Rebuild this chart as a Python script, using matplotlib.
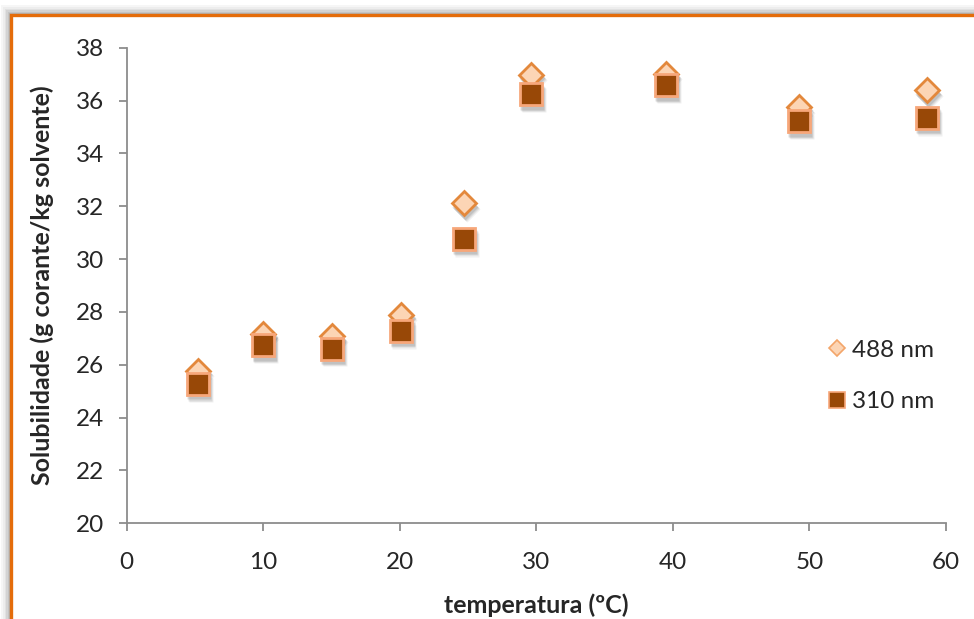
import matplotlib
matplotlib.use("Agg")
import matplotlib.pyplot as plt
from matplotlib.patches import Rectangle
from matplotlib.transforms import offset_copy
from matplotlib.lines import Line2D

# Solubility of the dye versus temperature, read at two wavelengths
temperatura = [5.2, 10.0, 15.0, 20.1, 24.7, 29.6, 39.5, 49.2, 58.6]
sol_488 = [25.78, 27.18, 27.08, 27.90, 32.11, 36.98, 37.02, 35.76, 36.39]
sol_310 = [25.28, 26.73, 26.61, 27.29, 30.77, 36.24, 36.58, 35.23, 35.35]

series_labels = ["488 nm", "310 nm"]
x_ticks = [0, 10, 20, 30, 40, 50, 60]
y_ticks = [20, 22, 24, 26, 28, 30, 32, 34, 36, 38]

plt.rcParams["font.family"] = ["Lato", "DejaVu Sans"]

W, H = 974, 619
fig = plt.figure(figsize=(W / 100, H / 100), dpi=100)
fig.patch.set_facecolor("white")

# Outer chart frame with a soft grey shadow on its top/left sides
fx0, fy_top = 11 / W, 1 - 15 / H
for i, a in enumerate([0.05, 0.06, 0.08, 0.10, 0.13, 0.16]):
    off = (6 - i) * 1.6
    fig.patches.append(Rectangle((fx0 - off / W, -0.1), 1.2, fy_top + off / H + 0.1,
                                 transform=fig.transFigure, facecolor="#606060",
                                 edgecolor="none", alpha=a, zorder=0))
fig.patches.append(Rectangle((fx0, -0.1), 1.2, fy_top + 0.1, transform=fig.transFigure,
                             facecolor="white", edgecolor="#E46C0A", linewidth=2.4, zorder=1))

left, right = 126.7 / W, 946 / W
bottom, top = 1 - 523.3 / H, 1 - 47.7 / H
ax = fig.add_axes([left, bottom, right - left, top - bottom])
ax.set_facecolor("none")
ax.set_zorder(2)

ax.set_xlim(0, 60)
ax.set_ylim(20, 38)
ax.set_xticks(x_ticks)
ax.set_yticks(y_ticks)

for s in ["top", "right"]:
    ax.spines[s].set_visible(False)
for s in ["left", "bottom"]:
    ax.spines[s].set_color("#8C8C8C")
    ax.spines[s].set_linewidth(1.3)

ax.tick_params(axis="both", direction="out", color="#8C8C8C", width=1.3, length=6,
               labelsize=17.5, labelcolor="#262626")
ax.tick_params(axis="y", pad=10)
ax.tick_params(axis="x", pad=15)

# Marker shadows, slightly offset down-right
shadow_layers = [(1.0, -2.6, 0.16), (1.6, -3.4, 0.12), (2.2, -4.2, 0.08)]

def shadowed(x, y, marker, ms, face, edge, label, z):
    for dx, dy, a in shadow_layers:
        tr = offset_copy(ax.transData, fig=fig, x=dx, y=dy, units="points")
        ax.plot(x, y, linestyle="none", marker=marker, ms=ms + 0.6, mfc="#404040",
                mec="none", alpha=a, transform=tr, zorder=z)
    ax.plot(x, y, linestyle="none", marker=marker, ms=ms, mfc=face, mec=edge,
            mew=2.0, zorder=z + 0.5, label=label)

shadowed(temperatura, sol_488, "D", 12.5, "#FCD5B5", "#E3883C", series_labels[0], 3)
shadowed(temperatura, sol_310, "s", 16.5, "#984807", "#F7A77A", series_labels[1], 4)

ax.set_xlabel("temperatura (ºC)", fontsize=18, fontweight="bold", color="#262626")
ax.xaxis.label.set_va("center")
ax.xaxis.set_label_coords(0.5, (523.3 - 605) / 475.6)

ax.set_ylabel("Solubilidade (g corante/kg solvente)", fontsize=18, fontweight="bold",
              color="#262626")
ax.yaxis.label.set_va("center")
ax.yaxis.set_label_coords((42 - 126.7) / 819.3, 0.5)

handles = [
    Line2D([], [], linestyle="none", marker="D", ms=8, mfc="#FCD5B5", mec="#F3A56A", mew=1.2),
    Line2D([], [], linestyle="none", marker="s", ms=11, mfc="#984807", mec="#F7A77A", mew=1.2),
]
leg = ax.legend(handles, series_labels, loc="center left",
                bbox_to_anchor=(816 / W, 1 - 376 / H), bbox_transform=fig.transFigure,
                frameon=False, fontsize=17.5, handlelength=0.7, handletextpad=0.3,
                labelspacing=1.25, borderpad=0)
for t in leg.get_texts():
    t.set_color("#262626")

fig.savefig("out.png", dpi=100, facecolor=fig.get_facecolor())
